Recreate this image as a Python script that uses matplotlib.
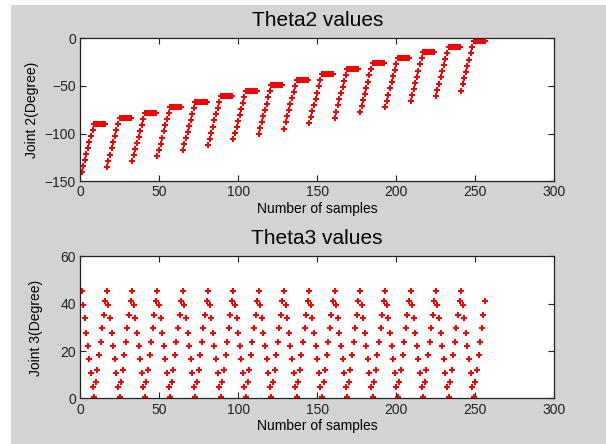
import numpy as np
import matplotlib
matplotlib.use("Agg")
import matplotlib.pyplot as plt
from matplotlib.patches import Rectangle

plt.rcParams['font.family'] = ['Liberation Sans', 'DejaVu Sans']

# Theta2 values, one row per motion cycle (16 samples each): ramp then plateau
theta2_cycles = [
    [-140.3, -134.0, -127.6, -121.3, -114.9, -108.6, -102.2, -95.9, -89.5, -89.5, -89.5, -89.5, -89.5, -89.5, -89.5, -89.5],
    [-134.6, -128.2, -121.9, -115.5, -109.2, -102.8, -96.4, -90.1, -83.7, -83.7, -83.7, -83.7, -83.7, -83.7, -83.7, -83.7],
    [-128.9, -122.5, -116.2, -109.8, -103.5, -97.1, -90.7, -84.4, -78.0, -78.0, -78.0, -78.0, -78.0, -78.0, -78.0, -78.0],
    [-123.2, -116.8, -110.5, -104.1, -97.7, -91.3, -85.0, -78.6, -72.2, -72.2, -72.2, -72.2, -72.2, -72.2, -72.2, -72.2],
    [-117.5, -111.1, -104.7, -98.3, -91.9, -85.6, -79.2, -72.8, -66.4, -66.4, -66.4, -66.4, -66.4, -66.4, -66.4, -66.4],
    [-111.8, -105.4, -99.0, -92.6, -86.2, -79.9, -73.5, -67.1, -60.7, -60.7, -60.7, -60.7, -60.7, -60.7, -60.7, -60.7],
    [-106.1, -99.7, -93.3, -86.9, -80.5, -74.1, -67.7, -61.3, -54.9, -54.9, -54.9, -54.9, -54.9, -54.9, -54.9, -54.9],
    [-100.4, -94.0, -87.6, -81.2, -74.8, -68.4, -61.9, -55.5, -49.1, -49.1, -49.1, -49.1, -49.1, -49.1, -49.1, -49.1],
    [-94.7, -88.3, -81.9, -75.4, -69.0, -62.6, -56.2, -49.8, -43.3, -43.3, -43.3, -43.3, -43.3, -43.3, -43.3, -43.3],
    [-89.0, -82.6, -76.1, -69.7, -63.3, -56.9, -50.4, -44.0, -37.6, -37.6, -37.6, -37.6, -37.6, -37.6, -37.6, -37.6],
    [-83.3, -76.9, -70.4, -64.0, -57.5, -51.1, -44.7, -38.2, -31.8, -31.8, -31.8, -31.8, -31.8, -31.8, -31.8, -31.8],
    [-77.6, -71.2, -64.7, -58.3, -51.8, -45.4, -38.9, -32.5, -26.0, -26.0, -26.0, -26.0, -26.0, -26.0, -26.0, -26.0],
    [-71.9, -65.5, -59.0, -52.6, -46.1, -39.7, -33.2, -26.8, -20.3, -20.3, -20.3, -20.3, -20.3, -20.3, -20.3, -20.3],
    [-66.2, -59.7, -53.3, -46.8, -40.4, -33.9, -27.4, -21.0, -14.5, -14.5, -14.5, -14.5, -14.5, -14.5, -14.5, -14.5],
    [-60.5, -54.0, -47.6, -41.1, -34.6, -28.2, -21.7, -15.2, -8.7, -8.7, -8.7, -8.7, -8.7, -8.7, -8.7, -8.7],
    [-54.8, -48.3, -41.8, -35.4, -28.9, -22.4, -15.9, -9.5, -3.0, -3.0, -3.0, -3.0, -3.0, -3.0, -3.0, -3.0],
]

# Theta3 values, one row per cycle: down from 45 to 0 then back up
theta3_cycles = [
    [45.3, 39.3, 33.9, 27.8, 22.3, 16.5, 10.9, 4.8, 0.6, 6.8, 12.1, 18.2, 23.7, 29.7, 35.2, 41.0],
    [45.3, 39.3, 33.9, 27.8, 22.3, 16.5, 10.9, 4.8, 0.6, 6.8, 12.1, 18.2, 23.7, 29.7, 35.2, 41.0],
    [45.3, 39.3, 33.9, 27.8, 22.3, 16.5, 10.9, 4.8, 0.6, 6.8, 12.1, 18.2, 23.7, 29.7, 35.2, 41.0],
    [45.3, 39.3, 33.9, 27.8, 22.3, 16.5, 10.9, 4.8, 0.6, 6.8, 12.1, 18.2, 23.7, 29.7, 35.2, 41.0],
    [45.3, 39.3, 33.9, 27.8, 22.3, 16.5, 10.9, 4.8, 0.6, 6.8, 12.1, 18.2, 23.7, 29.7, 35.2, 41.0],
    [45.3, 39.3, 33.9, 27.8, 22.3, 16.5, 10.9, 4.8, 0.6, 6.8, 12.1, 18.2, 23.7, 29.7, 35.2, 41.0],
    [45.3, 39.3, 33.9, 27.8, 22.3, 16.5, 10.9, 4.8, 0.6, 6.8, 12.1, 18.2, 23.7, 29.7, 35.2, 41.0],
    [45.3, 39.3, 33.9, 27.8, 22.3, 16.5, 10.9, 4.8, 0.6, 6.8, 12.1, 18.2, 23.7, 29.7, 35.2, 41.0],
    [45.3, 39.3, 33.9, 27.8, 22.3, 16.5, 10.9, 4.8, 0.6, 6.8, 12.1, 18.2, 23.7, 29.7, 35.2, 41.0],
    [45.3, 39.3, 33.9, 27.8, 22.3, 16.5, 10.9, 4.8, 0.6, 6.8, 12.1, 18.2, 23.7, 29.7, 35.2, 41.0],
    [45.3, 39.3, 33.9, 27.8, 22.3, 16.5, 10.9, 4.8, 0.6, 6.8, 12.1, 18.2, 23.7, 29.7, 35.2, 41.0],
    [45.3, 39.3, 33.9, 27.8, 22.3, 16.5, 10.9, 4.8, 0.6, 6.8, 12.1, 18.2, 23.7, 29.7, 35.2, 41.0],
    [45.3, 39.3, 33.9, 27.8, 22.3, 16.5, 10.9, 4.8, 0.6, 6.8, 12.1, 18.2, 23.7, 29.7, 35.2, 41.0],
    [45.3, 39.3, 33.9, 27.8, 22.3, 16.5, 10.9, 4.8, 0.6, 6.8, 12.1, 18.2, 23.7, 29.7, 35.2, 41.0],
    [45.3, 39.3, 33.9, 27.8, 22.3, 16.5, 10.9, 4.8, 0.6, 6.8, 12.1, 18.2, 23.7, 29.7, 35.2, 41.0],
    [45.3, 39.3, 33.9, 27.8, 22.3, 16.5, 10.9, 4.8, 0.6, 6.8, 12.1, 18.2, 23.7, 29.7, 35.2, 41.0],
]

theta2 = np.concatenate(theta2_cycles)
theta3 = np.concatenate(theta3_cycles)
samples = np.arange(1, len(theta2) + 1)   # 1-based sample index

x_ticks = [0, 50, 100, 150, 200, 250, 300]
theta2_ticks = [-150, -100, -50, 0]
theta3_ticks = [0, 20, 40, 60]

# grey figure, thin white strip on the left and top edge
fig = plt.figure(figsize=(6.06, 4.44), dpi=100, facecolor='#d3d3d3')
fig.patches.append(Rectangle((0, 0), 11 / 606, 1, transform=fig.transFigure,
                             facecolor='white', edgecolor='none', zorder=-10))
fig.patches.append(Rectangle((0, 1 - 5 / 444), 1, 5 / 444, transform=fig.transFigure,
                             facecolor='white', edgecolor='none', zorder=-10))

ax1 = fig.add_axes([0.132, 0.5917, 0.783, 0.322])
ax2 = fig.add_axes([0.132, 0.1025, 0.783, 0.320])

for ax, y, ticks, ylim, title, ylabel, ylab_x in [
    (ax1, theta2, theta2_ticks, (-150, 0), 'Theta2 values', 'Joint 2(Degree)', -0.087),
    (ax2, theta3, theta3_ticks, (0, 60), 'Theta3 values', 'Joint 3(Degree)', -0.078),
]:
    ax.plot(samples, y, linestyle='none', marker='P', markersize=4.6,
            color='red', markeredgewidth=0)
    ax.set_xlim(0, 300)
    ax.set_ylim(*ylim)
    ax.set_xticks(x_ticks)
    ax.set_yticks(ticks)
    ax.tick_params(direction='in', top=True, right=True, length=4,
                   labelsize=10, width=0.8, colors='#222222', pad=3)
    for s in ax.spines.values():
        s.set_linewidth(0.9)
        s.set_color('#222222')
    ax.set_title(title, fontsize=15, pad=9)
    ax.set_xlabel('Number of samples', fontsize=10, labelpad=2)
    ax.set_ylabel(ylabel, fontsize=10)
    ax.yaxis.set_label_coords(ylab_x, 0.5)

plt.savefig("out.png", dpi=100, facecolor=fig.get_facecolor())
